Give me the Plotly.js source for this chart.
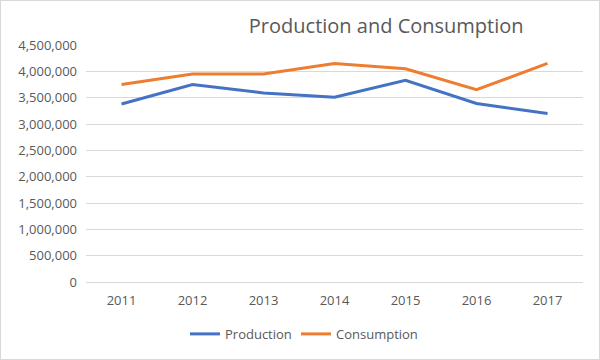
<!DOCTYPE html>
<html>
<head>
<meta charset="utf-8">
<script src="https://cdn.plot.ly/plotly-3.0.1.min.js"></script>
<style>
  html, body { margin: 0; padding: 0; background: #fff; }
  #chart { width: 598px; height: 358px; border: 1px solid #d9d9d9; }
</style>
</head>
<body>
<div id="chart"></div>
<script>
const years = ['2011', '2012', '2013', '2014', '2015', '2016', '2017'];
const production = [3380000, 3750000, 3590000, 3510000, 3830000, 3390000, 3200000];
const consumption = [3750000, 3950000, 3950000, 4150000, 4050000, 3650000, 4150000];

const fontFam = 'Open Sans, DejaVu Sans, sans-serif';
const traces = [
  {
    x: years, y: production, name: 'Production', type: 'scatter', mode: 'lines',
    line: { color: '#4472c4', width: 3 }, legend: 'legend'
  },
  {
    x: years, y: consumption, name: 'Consumption', type: 'scatter', mode: 'lines',
    line: { color: '#ed7d31', width: 3 }, legend: 'legend2'
  }
];

const legendBase = {
  orientation: 'h', xanchor: 'left', xref: 'container',
  y: 0.07, yanchor: 'middle', yref: 'container',
  bgcolor: 'rgba(0,0,0,0)',
  font: { size: 13, color: '#595959' }, itemwidth: 30
};

const layout = {
  width: 598, height: 358,
  margin: { l: 85, r: 16, t: 44, b: 77 },
  paper_bgcolor: '#ffffff', plot_bgcolor: '#ffffff',
  font: { family: fontFam, color: '#595959', size: 13 },
  title: {
    text: 'Production and Consumption',
    font: { family: fontFam, size: 20, color: '#595959' },
    x: 0.604, xanchor: 'center', xref: 'paper',
    y: 0.93, yanchor: 'middle', yref: 'container'
  },
  xaxis: {
    type: 'category', range: [-0.5, 6.5], showgrid: false,
    showline: true, linecolor: '#d9d9d9', linewidth: 1,
    ticks: '', ticklabelstandoff: 6,
    tickfont: { size: 13, color: '#595959' }, fixedrange: true
  },
  yaxis: {
    range: [0, 4500000], dtick: 500000, tickformat: ',d',
    showgrid: true, gridcolor: '#d9d9d9', gridwidth: 1,
    zeroline: false, showline: false, ticks: '',
    ticklabelstandoff: 8,
    tickfont: { size: 13, color: '#595959' }, fixedrange: true
  },
  showlegend: true,
  legend: Object.assign({}, legendBase, { x: 184 / 598 }),
  legend2: Object.assign({}, legendBase, { x: 295 / 598 })
};

Plotly.newPlot('chart', traces, layout, { displayModeBar: false, staticPlot: true });
</script>
</body>
</html>
